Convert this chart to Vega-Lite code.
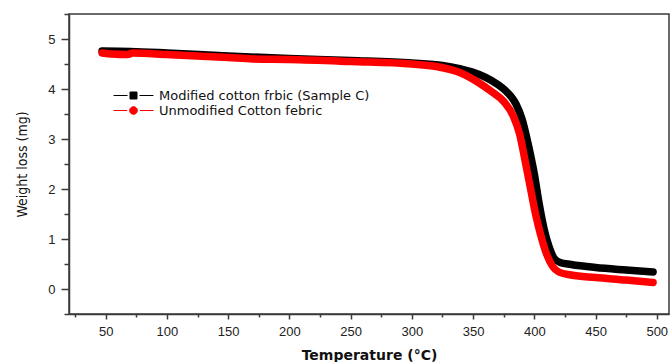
{
  "$schema": "https://vega.github.io/schema/vega-lite/v6.json",
  "width": 600,
  "height": 300,
  "autosize": {"type": "none"},
  "padding": {"left": 69, "top": 14, "right": 1, "bottom": 48},
  "background": "white",
  "config": {
    "view": {"stroke": "#3a3a3a", "strokeWidth": 1.5},
    "axis": {"labelFont": "Liberation Sans", "labelFontSize": 13, "labelColor": "#222", "domainColor": "#3a3a3a", "domainWidth": 1.5, "tickColor": "#3a3a3a", "tickWidth": 1.5, "grid": false, "titleColor": "#111"}
  },
  "datasets": {
    "tga": [
      {"s": "Modified cotton frbic (Sample C)", "t": 47, "w": 4.76},
      {"s": "Modified cotton frbic (Sample C)", "t": 70, "w": 4.75},
      {"s": "Modified cotton frbic (Sample C)", "t": 100, "w": 4.72},
      {"s": "Modified cotton frbic (Sample C)", "t": 150, "w": 4.66},
      {"s": "Modified cotton frbic (Sample C)", "t": 200, "w": 4.61},
      {"s": "Modified cotton frbic (Sample C)", "t": 250, "w": 4.57},
      {"s": "Modified cotton frbic (Sample C)", "t": 300, "w": 4.52},
      {"s": "Modified cotton frbic (Sample C)", "t": 325, "w": 4.47},
      {"s": "Modified cotton frbic (Sample C)", "t": 340, "w": 4.4},
      {"s": "Modified cotton frbic (Sample C)", "t": 355, "w": 4.29},
      {"s": "Modified cotton frbic (Sample C)", "t": 365, "w": 4.17},
      {"s": "Modified cotton frbic (Sample C)", "t": 375, "w": 4.0},
      {"s": "Modified cotton frbic (Sample C)", "t": 385, "w": 3.7},
      {"s": "Modified cotton frbic (Sample C)", "t": 390, "w": 3.4},
      {"s": "Modified cotton frbic (Sample C)", "t": 395, "w": 2.9},
      {"s": "Modified cotton frbic (Sample C)", "t": 400, "w": 2.3},
      {"s": "Modified cotton frbic (Sample C)", "t": 404, "w": 1.7},
      {"s": "Modified cotton frbic (Sample C)", "t": 408, "w": 1.2},
      {"s": "Modified cotton frbic (Sample C)", "t": 412, "w": 0.85},
      {"s": "Modified cotton frbic (Sample C)", "t": 416, "w": 0.62},
      {"s": "Modified cotton frbic (Sample C)", "t": 421, "w": 0.53},
      {"s": "Modified cotton frbic (Sample C)", "t": 430, "w": 0.49},
      {"s": "Modified cotton frbic (Sample C)", "t": 450, "w": 0.43},
      {"s": "Modified cotton frbic (Sample C)", "t": 475, "w": 0.38},
      {"s": "Modified cotton frbic (Sample C)", "t": 497, "w": 0.34},
      {"s": "Unmodified Cotton febric", "t": 47, "w": 4.72},
      {"s": "Unmodified Cotton febric", "t": 55, "w": 4.7},
      {"s": "Unmodified Cotton febric", "t": 68, "w": 4.69},
      {"s": "Unmodified Cotton febric", "t": 72, "w": 4.72},
      {"s": "Unmodified Cotton febric", "t": 100, "w": 4.69},
      {"s": "Unmodified Cotton febric", "t": 150, "w": 4.63},
      {"s": "Unmodified Cotton febric", "t": 170, "w": 4.6},
      {"s": "Unmodified Cotton febric", "t": 200, "w": 4.59},
      {"s": "Unmodified Cotton febric", "t": 250, "w": 4.55},
      {"s": "Unmodified Cotton febric", "t": 300, "w": 4.5},
      {"s": "Unmodified Cotton febric", "t": 320, "w": 4.45},
      {"s": "Unmodified Cotton febric", "t": 340, "w": 4.32},
      {"s": "Unmodified Cotton febric", "t": 355, "w": 4.12},
      {"s": "Unmodified Cotton febric", "t": 365, "w": 3.95},
      {"s": "Unmodified Cotton febric", "t": 375, "w": 3.75},
      {"s": "Unmodified Cotton febric", "t": 383, "w": 3.45},
      {"s": "Unmodified Cotton febric", "t": 388, "w": 3.1},
      {"s": "Unmodified Cotton febric", "t": 393, "w": 2.5},
      {"s": "Unmodified Cotton febric", "t": 397, "w": 2.0},
      {"s": "Unmodified Cotton febric", "t": 401, "w": 1.5},
      {"s": "Unmodified Cotton febric", "t": 405, "w": 1.1},
      {"s": "Unmodified Cotton febric", "t": 410, "w": 0.7},
      {"s": "Unmodified Cotton febric", "t": 415, "w": 0.45},
      {"s": "Unmodified Cotton febric", "t": 420, "w": 0.34},
      {"s": "Unmodified Cotton febric", "t": 430, "w": 0.28},
      {"s": "Unmodified Cotton febric", "t": 450, "w": 0.23},
      {"s": "Unmodified Cotton febric", "t": 475, "w": 0.18},
      {"s": "Unmodified Cotton febric", "t": 497, "w": 0.13}
    ]
  },
  "data": {"name": "tga"},
  "layer": [
    {
      "mark": {"type": "line", "strokeWidth": 7.5, "strokeCap": "round", "strokeJoin": "round", "interpolate": "monotone"},
      "encoding": {
        "x": {"field": "t", "type": "quantitative", "scale": {"domain": [20, 510], "nice": false, "zero": false},
          "axis": {"values": [50, 100, 150, 200, 250, 300, 350, 400, 450, 500], "tickSize": 5, "labelPadding": 6, "title": "Temperature (°C)", "titleFont": "DejaVu Sans", "titleFontSize": 14, "titleFontWeight": "bold", "titlePadding": 10}},
        "y": {"field": "w", "type": "quantitative", "scale": {"domain": [-0.5, 5.5], "nice": false, "zero": false},
          "axis": {"values": [0, 1, 2, 3, 4, 5], "tickSize": 8, "labelPadding": 6, "title": "Weight loss (mg)", "titleFont": "DejaVu Sans Condensed", "titleFontSize": 14, "titleFontWeight": "normal", "titlePadding": 18}},
        "color": {"field": "s", "type": "nominal", "sort": ["Modified cotton frbic (Sample C)", "Unmodified Cotton febric"],
          "scale": {"domain": ["Modified cotton frbic (Sample C)", "Unmodified Cotton febric"], "range": ["#000000", "#ff0000"]},
          "legend": {"orient": "none", "legendX": 57, "legendY": 74, "title": null, "labelFont": "DejaVu Sans", "labelFontSize": 13, "labelColor": "#111", "labelOffset": 18, "labelLimit": 0, "symbolSize": 196, "symbolStrokeWidth": 1, "rowPadding": -1,
            "encode": {"symbols": {"update": {
              "shape": {"signal": "datum.value == 'Unmodified Cotton febric' ? 'M-2.85,0H-0.9M0.9,0H2.85M-0.55,0A0.55,0.55,0,1,1,0.55,0A0.55,0.55,0,1,1,-0.55,0Z' : 'M-2.85,0H-0.85M0.85,0H2.85M-0.5,-0.5H0.5V0.5H-0.5Z'"},
              "fill": {"signal": "datum.value == 'Unmodified Cotton febric' ? '#ff0000' : '#000000'"},
              "stroke": {"signal": "datum.value == 'Unmodified Cotton febric' ? '#ff9999' : '#000000'"},
              "strokeWidth": {"value": 1}
            }}}}
        },
        "order": {"field": "t", "type": "quantitative"}
      }
    },
    {
      "mark": {"type": "point", "opacity": 0},
      "encoding": {
        "x": {"field": "t", "type": "quantitative", "axis": {"values": [25, 75, 125, 175, 225, 275, 325, 375, 425, 475], "tickSize": 3, "labels": false, "domain": false, "title": null, "orient": "bottom"}},
        "y": {"field": "w", "type": "quantitative", "axis": {"values": [-0.5, 0.5, 1.5, 2.5, 3.5, 4.5, 5.5], "tickSize": 5, "labels": false, "domain": false, "title": null, "orient": "left"}}
      }
    }
  ],
  "resolve": {"axis": {"x": "independent", "y": "independent"}}
}
